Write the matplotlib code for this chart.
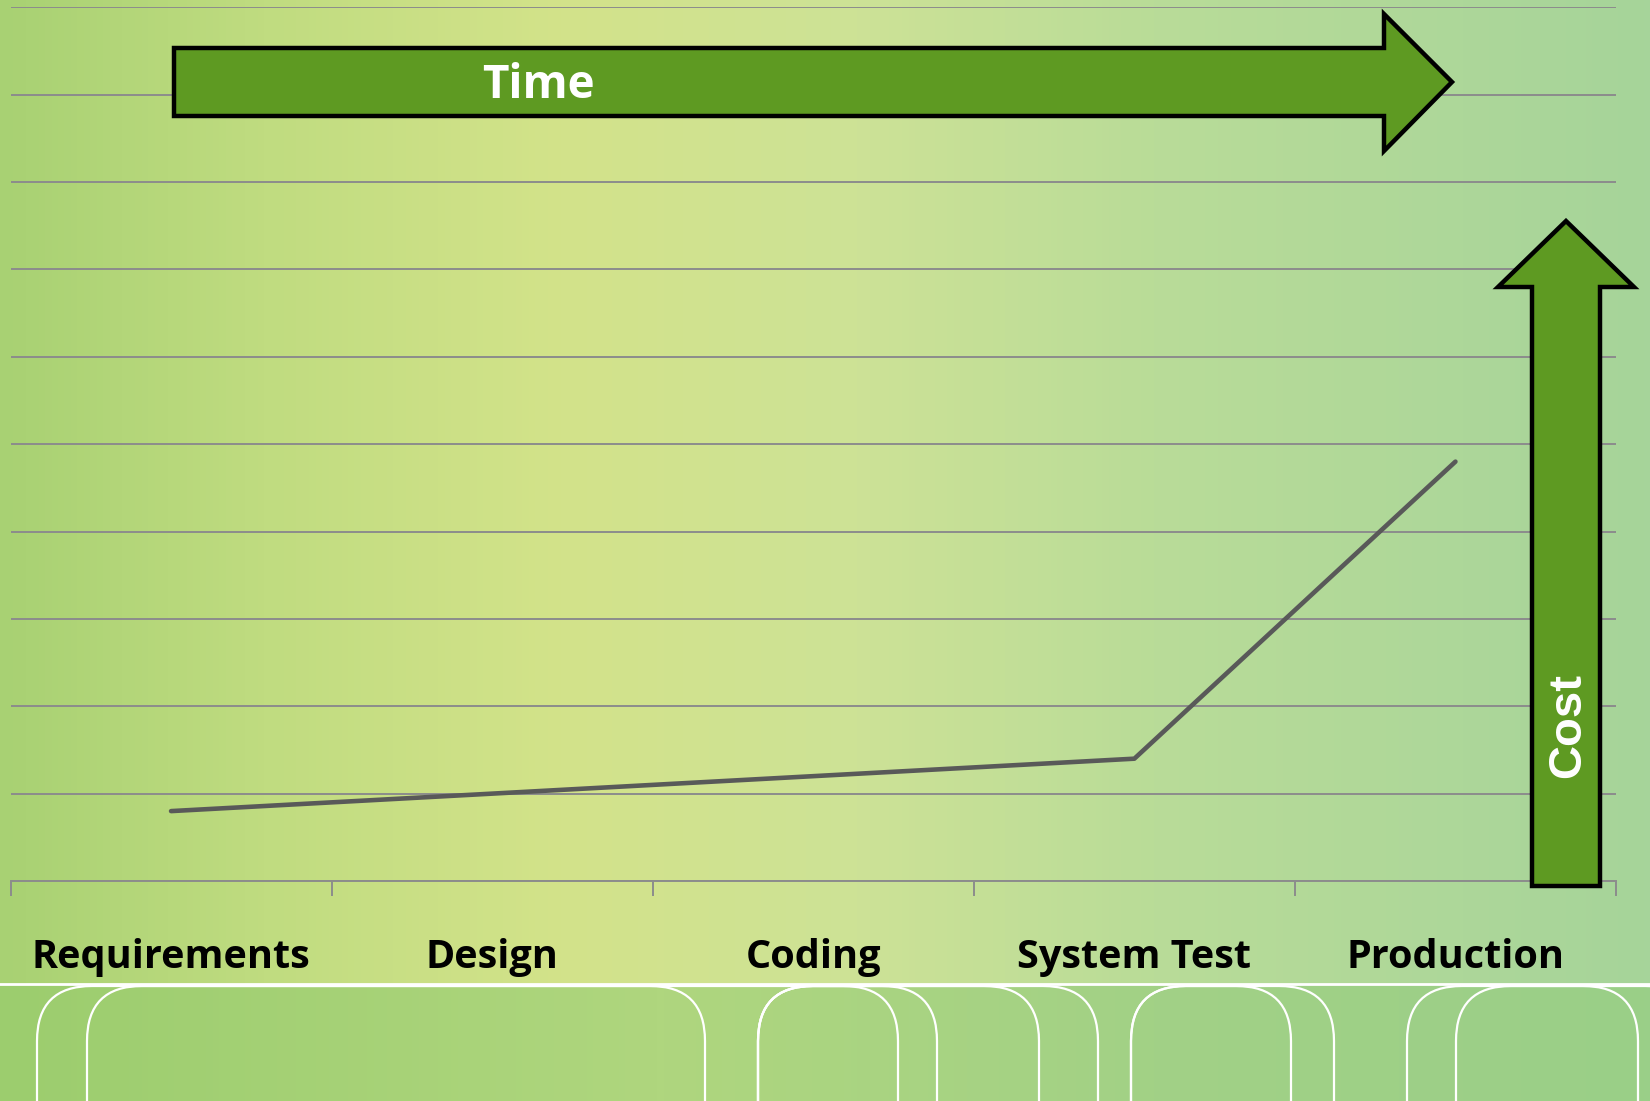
import numpy as np
import matplotlib
matplotlib.use('Agg')
import matplotlib.pyplot as plt
from matplotlib.colors import LinearSegmentedColormap
from matplotlib.patches import Polygon, FancyBboxPatch
from matplotlib.transforms import blended_transform_factory

# datos del grafico
etapas = ['Requirements', 'Design', 'Coding', 'System Test', 'Production']
costo = [0.8, 1.0, 1.2, 1.4, 4.8]
y_max = 10

W, H = 1650, 1101
fig = plt.figure(figsize=(W / 100, H / 100), dpi=100)

# fondo con degradado horizontal
bg = fig.add_axes([0, 0, 1, 1], zorder=0)
bg.set_xlim(0, W)
bg.set_ylim(H, 0)
bg.axis('off')
fondo = LinearSegmentedColormap.from_list('fondo', [
    (0.0, '#a8d173'), (0.16, '#c0dc80'), (0.34, '#d3e38a'),
    (0.52, '#cde296'), (0.70, '#b9dc98'), (1.0, '#a6d49a')])
banda = LinearSegmentedColormap.from_list('banda', [
    (0.0, '#9ccd6e'), (0.4, '#afd67e'), (0.7, '#a2d186'), (1.0, '#9acf88')])
grad = np.linspace(0, 1, 512).reshape(1, -1)
bg.imshow(grad, cmap=fondo, aspect='auto', extent=[0, W, 984, 0])
bg.imshow(grad, cmap=banda, aspect='auto', extent=[0, W, H, 984])
bg.plot([0, W], [984, 984], color='white', lw=2)

# rectangulos redondeados decorativos de la banda inferior
rects = [(37, 1039), (87, 705), (758, 898), (758, 937), (758, 1098),
         (1131, 1291), (1131, 1334), (1407, 1638), (1456, 1700)]
for x0, x1 in rects:
    bg.add_patch(FancyBboxPatch((x0, 986), x1 - x0, 300,
                                boxstyle='round,pad=0,rounding_size=55',
                                fc='none', ec='white', lw=1.6))

# grafico principal
ax = fig.add_axes([10.5 / W, 1 - 881 / H, 1605.5 / W, (881 - 7.3) / H], zorder=1)
ax.patch.set_alpha(0)
x = np.arange(len(etapas))
ax.plot(x, costo, color='#595959', lw=3.3, solid_capstyle='round', zorder=3)
ax.set_xlim(-0.5, len(etapas) - 0.5)
ax.set_ylim(0, y_max)
ax.set_yticks(np.arange(0, y_max + 1, 1))
ax.yaxis.grid(True, color='#8c8c8c', lw=1.4)
ax.set_axisbelow(True)
ax.tick_params(axis='y', length=0, labelleft=False)
for s in ['top', 'right', 'left']:
    ax.spines[s].set_visible(False)
ax.spines['bottom'].set_color('#8c8c8c')
ax.spines['bottom'].set_linewidth(1.4)
ax.set_xticks(np.arange(-0.5, len(etapas), 1))
ax.tick_params(axis='x', direction='out', length=11, width=1.4, color='#8c8c8c', labelbottom=False)

tr = blended_transform_factory(ax.transData, fig.transFigure)
for xi, et in zip(x, etapas):
    ax.text(xi, 133 / H, et, transform=tr, ha='center', va='baseline',
            fontsize=28.5, fontweight='bold', family='Open Sans', color='black')

# flechas de Time y Cost
ov = fig.add_axes([0, 0, 1, 1], zorder=2)
ov.set_xlim(0, W)
ov.set_ylim(H, 0)
ov.axis('off')
flecha_t = [(174, 48), (1384, 48), (1384, 14), (1452, 82), (1384, 151),
            (1384, 116), (174, 116)]
ov.add_patch(Polygon(flecha_t, closed=True, fc='#5e9a22', ec='black', lw=3.2, joinstyle='miter'))
ov.text(538, 86, 'Time', ha='center', va='center', color='white',
        fontsize=33, fontweight='bold', family='Open Sans')

flecha_c = [(1532, 886), (1532, 287), (1498, 287), (1566, 221), (1634, 287),
            (1600, 287), (1600, 886)]
ov.add_patch(Polygon(flecha_c, closed=True, fc='#5e9a22', ec='black', lw=3.2, joinstyle='miter'))
ov.text(1568, 726, 'Cost', ha='center', va='center', color='white', rotation=90,
        fontsize=34, fontweight='bold', family='Liberation Sans')

fig.savefig('out.png', dpi=100)
